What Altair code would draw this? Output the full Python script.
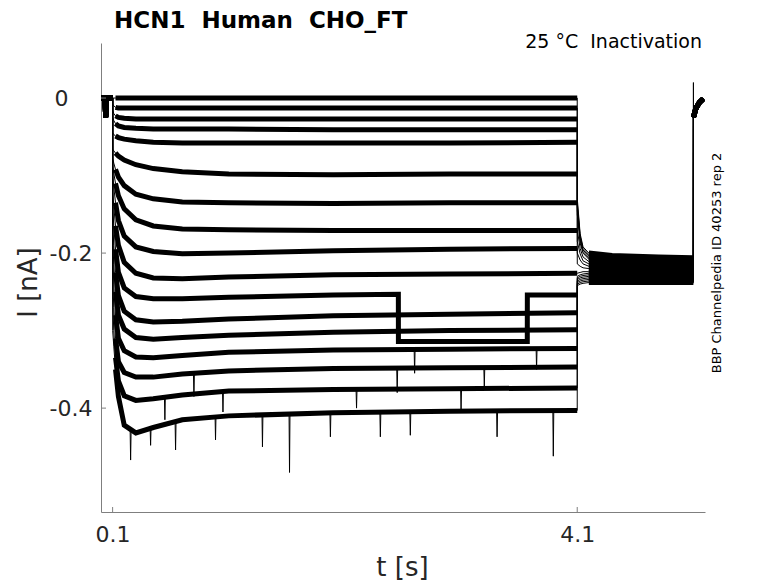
import altair as alt
import pandas as pd

# ---------------- data ----------------
# pre-pulse (holding) part, shared by all traces
t_pre = [0.0, 0.035, 0.04, 0.045, 0.05, 0.1]
v_pre = [0.0, 0.0, -0.025, -0.004, 0.0, 0.0]

# test-pulse part (0.1 s .. 4.1 s)
t_step = [0.1005, 0.11, 0.125, 0.15, 0.2, 0.3, 0.45, 0.7, 1.1, 2.0, 3.0, 4.1]
step_vals = [
    [0.000, 0.000, 0.000, 0.000, 0.000, 0.000, 0.000, 0.000, 0.000, 0.000, 0.000, 0.000],
    [-0.008, -0.010, -0.012, -0.013, -0.013, -0.013, -0.013, -0.013, -0.013, -0.013, -0.013, -0.013],
    [-0.016, -0.020, -0.023, -0.025, -0.026, -0.027, -0.027, -0.027, -0.027, -0.027, -0.027, -0.027],
    [-0.025, -0.029, -0.033, -0.036, -0.038, -0.039, -0.040, -0.040, -0.040, -0.041, -0.041, -0.041],
    [-0.045, -0.047, -0.049, -0.051, -0.053, -0.055, -0.057, -0.058, -0.058, -0.058, -0.058, -0.057],
    [-0.066, -0.068, -0.071, -0.075, -0.080, -0.086, -0.091, -0.095, -0.098, -0.099, -0.098, -0.098],
    [-0.078, -0.084, -0.092, -0.102, -0.113, -0.124, -0.130, -0.134, -0.135, -0.136, -0.135, -0.135],
    [-0.088, -0.097, -0.110, -0.126, -0.143, -0.157, -0.165, -0.169, -0.170, -0.171, -0.171, -0.171],
    [-0.100, -0.115, -0.135, -0.158, -0.178, -0.192, -0.198, -0.201, -0.200, -0.197, -0.195, -0.194],
    [-0.120, -0.140, -0.165, -0.190, -0.212, -0.226, -0.232, -0.233, -0.231, -0.228, -0.227, -0.226],
    [-0.140, -0.165, -0.195, -0.225, -0.245, -0.256, -0.259, -0.259, -0.257, -0.254, -0.314, -0.254],
    [-0.160, -0.190, -0.225, -0.255, -0.275, -0.286, -0.289, -0.288, -0.285, -0.281, -0.279, -0.277],
    [-0.180, -0.215, -0.250, -0.280, -0.298, -0.309, -0.311, -0.309, -0.306, -0.302, -0.300, -0.299],
    [-0.200, -0.240, -0.280, -0.310, -0.326, -0.334, -0.335, -0.332, -0.328, -0.325, -0.324, -0.323],
    [-0.230, -0.270, -0.310, -0.340, -0.354, -0.360, -0.360, -0.356, -0.352, -0.349, -0.348, -0.347],
    [-0.260, -0.300, -0.335, -0.365, -0.384, -0.390, -0.388, -0.383, -0.378, -0.376, -0.375, -0.374],
    [-0.300, -0.320, -0.350, -0.385, -0.422, -0.432, -0.425, -0.415, -0.410, -0.406, -0.404, -0.403],
]

# tail part (4.1 s .. 5.1 s)
t_tail = [4.1005, 4.125, 4.15, 4.2, 4.4, 4.8, 5.1]
tail_vals = [
    [-0.130, -0.175, -0.192, -0.200, -0.203, -0.205, -0.206],
    [-0.135, -0.178, -0.194, -0.202, -0.205, -0.207, -0.208],
    [-0.140, -0.181, -0.196, -0.204, -0.207, -0.209, -0.210],
    [-0.145, -0.184, -0.198, -0.206, -0.209, -0.211, -0.212],
    [-0.150, -0.187, -0.200, -0.208, -0.211, -0.213, -0.214],
    [-0.170, -0.194, -0.205, -0.211, -0.213, -0.215, -0.216],
    [-0.185, -0.201, -0.210, -0.214, -0.216, -0.217, -0.218],
    [-0.200, -0.209, -0.214, -0.217, -0.218, -0.219, -0.220],
    [-0.214, -0.217, -0.219, -0.220, -0.221, -0.222, -0.222],
    [-0.226, -0.225, -0.224, -0.224, -0.224, -0.224, -0.224],
    [-0.230, -0.228, -0.227, -0.226, -0.226, -0.226, -0.226],
    [-0.232, -0.230, -0.229, -0.228, -0.228, -0.228, -0.228],
    [-0.234, -0.232, -0.231, -0.230, -0.230, -0.230, -0.230],
    [-0.236, -0.234, -0.233, -0.232, -0.232, -0.232, -0.232],
    [-0.238, -0.236, -0.235, -0.234, -0.234, -0.234, -0.234],
    [-0.240, -0.238, -0.237, -0.236, -0.236, -0.236, -0.236],
    [-0.242, -0.240, -0.239, -0.238, -0.238, -0.238, -0.238],
]

# return to holding potential (after 5.1 s)
t_end = [5.1005, 5.12, 5.15, 5.185]
v_end = [-0.025, -0.014, -0.006, -0.001]

# trace 11 drops to a lower level for a while
jump_trace = 10
jump_t = [2.56, 2.5605, 3.67, 3.6705]
jump_v = [-0.253, -0.314, -0.314, -0.254]

# sharp noise spikes (thin) on the deeper traces and capacitive spike at the end
spike_trace = [16, 16, 16, 16, 16, 16, 16, 16, 16, 16, 16,
               15, 15, 15, 15, 14, 14, 14, 13, 13]
spike_t = [0.255, 0.427, 0.642, 0.986, 1.39, 1.623, 1.975, 2.405, 2.663, 3.41, 3.894,
           0.55, 1.05, 2.2, 3.1, 0.8, 2.55, 3.3, 2.7, 3.75]
spike_v = [-0.467, -0.448, -0.454, -0.441, -0.450, -0.483, -0.437, -0.437, -0.435, -0.437, -0.462,
           -0.415, -0.405, -0.400, -0.402, -0.385, -0.380, -0.372, -0.355, -0.350]
spike_base = [-0.430, -0.425, -0.418, -0.410, -0.408, -0.408, -0.407, -0.406, -0.406, -0.405, -0.404,
              -0.385, -0.378, -0.376, -0.375, -0.357, -0.349, -0.348, -0.324, -0.323]
end_spike_t = 5.1002
end_spike_v = 0.02

x_ticks = [0.1, 4.1]
y_ticks = [-0.4, -0.2, 0.0]

title_text = "HCN1\u00a0\u00a0Human\u00a0\u00a0CHO_FT"
sub_text = "25 °C\u00a0\u00a0Inactivation"
side_text = "BBP Channelpedia ID 40253 rep 2"

# ---------------- build table ----------------
rows = []
for i in range(len(step_vals)):
    for t, v in zip(t_pre, v_pre):
        rows.append((i, t, v, False))
    for t, v in zip(t_step, step_vals[i]):
        rows.append((i, t, v, False))
    for t, v in zip(t_tail, tail_vals[i]):
        rows.append((i, t, v, False))
    for t, v in zip(t_end, v_end):
        rows.append((i, t, v, False))
    if i == jump_trace:
        for t, v in zip(jump_t, jump_v):
            rows.append((i, t, v, False))
    if i == 0:
        rows.append((i, end_spike_t, end_spike_v, True))
for k, tr in enumerate(spike_trace):
    rows.append((tr, spike_t[k] - 0.004, spike_base[k], True))
    rows.append((tr, spike_t[k], spike_v[k], True))
    rows.append((tr, spike_t[k] + 0.004, spike_base[k], True))

df = pd.DataFrame(rows, columns=["trace", "t", "v", "spike"]).sort_values(["trace", "t"])


def seg(t):
    if t <= 0.1:
        return 0
    if 0.125 <= t <= 4.1:
        return 1
    if 4.2 <= t <= 5.1:
        return 2
    if t >= 5.1005:
        return 3
    return -1


df["seg"] = df["t"].apply(seg)
thick = df[(df["seg"] >= 0) & (~df["spike"])]

FONT = "DejaVu Sans"
AX = "#7f7f7f"
TXT = "#262626"

xs = alt.Scale(domain=[0, 5.2], nice=False, zero=False)
ys = alt.Scale(domain=[-0.534, 0.071], nice=False, zero=False)

x_axis = alt.Axis(
    values=x_ticks, labelExpr="format(datum.value, '.1f')", ticks=False, tickSize=0,
    grid=False, domainColor=AX, labelFont=FONT, labelFontSize=22, labelColor=TXT,
    labelPadding=12, title="t [s]", titleFont=FONT, titleFontSize=26,
    titleFontWeight="normal", titleColor=TXT, titleX=301, titleY=55,
    titleBaseline="middle", titleAlign="center",
)
y_axis = alt.Axis(
    values=y_ticks,
    labelExpr="datum.value == 0 ? '0' : '-' + format(abs(datum.value), '.1f')",
    ticks=False, tickSize=0, grid=False, domainColor=AX, labelFont=FONT,
    labelFontSize=22, labelColor=TXT,
    labelPadding={"condition": {"test": "datum.value == 0", "value": 33}, "value": 9},
    title="I [nA]",
    titleFont=FONT, titleFontSize=26, titleFontWeight="normal", titleColor=TXT,
    titleX=-73, titleY=239, titleAngle=270, titleAlign="center", titleBaseline="middle",
)

thin_lines = alt.Chart(df).mark_line(color="black", strokeWidth=1, clip=True).encode(
    x=alt.X("t:Q", scale=xs, axis=x_axis),
    y=alt.Y("v:Q", scale=ys, axis=y_axis),
    detail="trace:N",
    order="t:Q",
)
thick_lines = alt.Chart(thick).mark_line(color="black", strokeWidth=5, clip=True).encode(
    x=alt.X("t:Q", scale=xs),
    y=alt.Y("v:Q", scale=ys),
    detail=["trace:N", "seg:N"],
    order="t:Q",
)

xt = alt.Chart(pd.DataFrame({"t": x_ticks})).mark_rule(color=AX, strokeWidth=1).encode(
    x=alt.X("t:Q", scale=xs), y=alt.value(469), y2=alt.value(464)
)
yt = alt.Chart(pd.DataFrame({"v": y_ticks})).mark_rule(color=AX, strokeWidth=1).encode(
    y=alt.Y("v:Q", scale=ys), x=alt.value(0), x2=alt.value(5)
)

title = alt.Chart(pd.DataFrame({"s": [title_text]})).mark_text(
    font=FONT, fontSize=23, fontWeight="bold", color="black", align="left", baseline="alphabetic"
).encode(text="s:N", x=alt.value(13), y=alt.value(-15))
sub = alt.Chart(pd.DataFrame({"s": [sub_text]})).mark_text(
    font=FONT, fontSize=19, color="black", align="right", baseline="alphabetic"
).encode(text="s:N", x=alt.value(601), y=alt.value(5))
side = alt.Chart(pd.DataFrame({"s": [side_text]})).mark_text(
    font=FONT, fontSize=13, color="black", align="center", baseline="middle", angle=270
).encode(text="s:N", x=alt.value(616), y=alt.value(220))

chart = alt.layer(thin_lines, thick_lines, xt, yt, title, sub, side).properties(
    width=604, height=469,
    autosize=alt.AutoSizeParams(type="none"),
    padding={"left": 93, "top": 35, "right": 65, "bottom": 90},
).configure(background="white").configure_view(stroke=None)

chart.save("out.html", embed_options={"renderer": "svg", "actions": False})
